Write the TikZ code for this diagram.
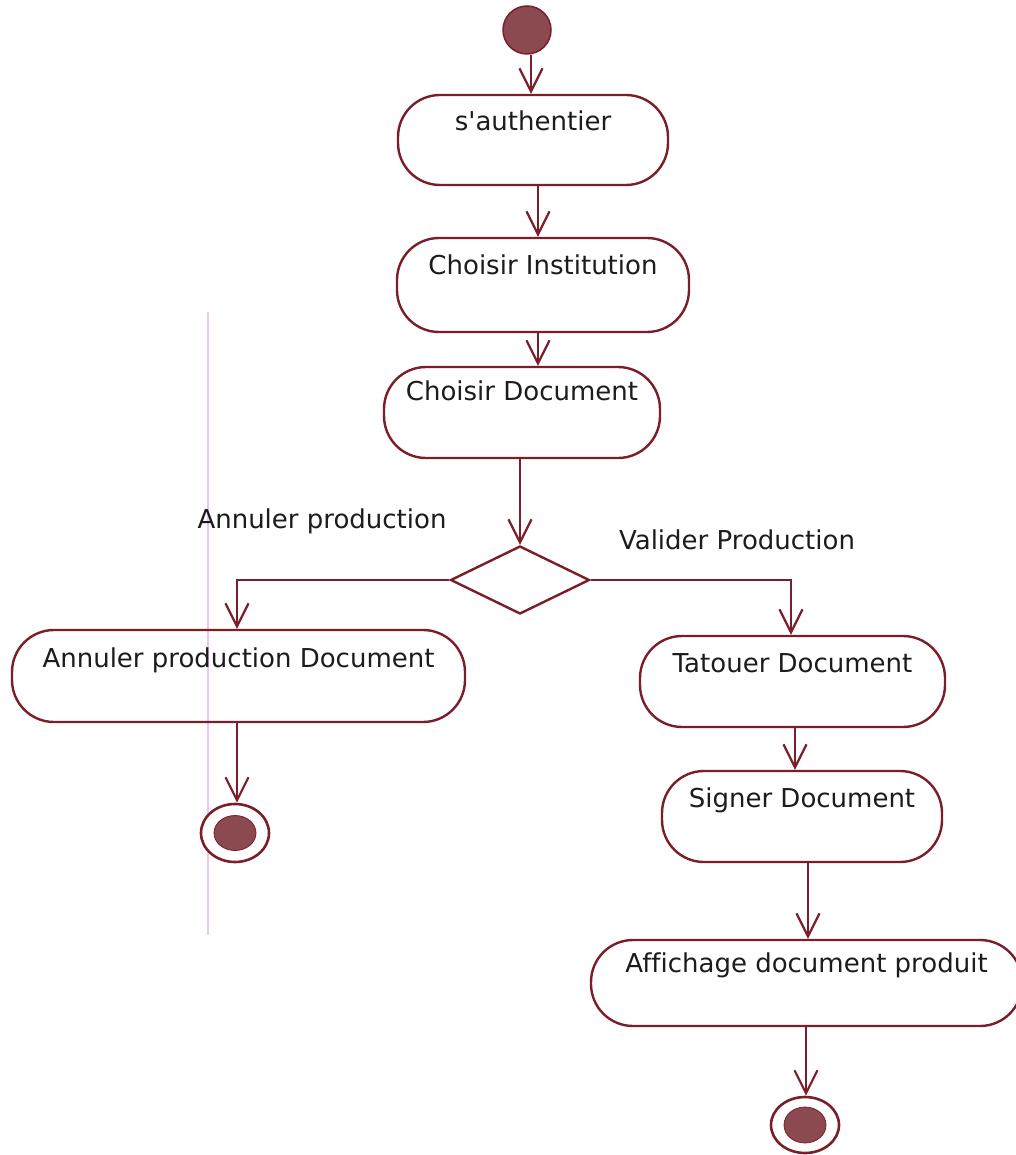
\documentclass[tikz,border=0pt]{standalone}
\usepackage{fontspec}
\setmainfont{DejaVu Sans}[Ligatures={NoCommon}]
\usetikzlibrary{arrows.meta,shapes.geometric}
\definecolor{umlline}{HTML}{7A1E2A}
\definecolor{umlfill}{HTML}{8A4A50}
\definecolor{umltext}{HTML}{1C1C1C}
\definecolor{margin}{HTML}{EBC8EE}
\tikzset{
  flow/.style={draw=umlline, line width=2.4pt,
    -{Straight Barb[length=23pt,width=23pt,line width=2.2pt]}},
  action/.style={draw=umlline, line width=2.4pt, rectangle,
    rounded corners=42pt, inner sep=0pt, text=umltext,
    font=\fontsize{26}{31}\selectfont},
  startnode/.style={circle, draw=umlline, line width=1.5pt, fill=umlfill,
    minimum size=48pt, inner sep=0pt},
  endring/.style={ellipse, draw=umlline, line width=2.6pt, fill=white,
    inner sep=0pt},
  enddot/.style={ellipse, fill=umlfill, draw=umlline, line width=0.8pt,
    inner sep=0pt},
  decision/.style={diamond, draw=umlline, line width=2.4pt, fill=white,
    inner sep=0pt, minimum width=139pt, minimum height=68pt},
  guard/.style={text=umltext, font=\fontsize{26}{31}\selectfont,
    inner sep=0pt, anchor=base}
}
\begin{document}
\begin{tikzpicture}[x=1pt,y=-1pt]
  \useasboundingbox (0,0) rectangle (1015,1155);
  \fill[white] (0,0) rectangle (1015,1155);
  % thin margin rule on the left
  \draw[margin, line width=1.5pt] (208,312) -- (208,935);

  % initial node
  \node[startnode] (start) at (527,30) {};

  % actions
  \node[action, minimum width=270pt, text height=36pt, text depth=54pt]
    (auth) at (533,140) {s\textquotesingle authentier};
  \node[action, minimum width=292pt, text height=37pt, text depth=57pt]
    (inst) at (543,285) {Choisir Institution};
  \node[action, minimum width=276pt, text height=33pt, text depth=58pt]
    (doc) at (522,412.5) {Choisir Document};
  \node[decision] (dia) at (520,580) {};
  \node[action, minimum width=453pt, text height=37pt, text depth=55pt]
    (annul) at (238.5,676) {Annuler production Document};
  \node[action, minimum width=305pt, text height=36pt, text depth=55pt]
    (tat) at (792.5,681.5) {Tatouer Document};
  \node[action, minimum width=280pt, text height=36pt, text depth=55pt]
    (sign) at (802,816.5) {Signer Document};
  \node[action, minimum width=431pt, text height=32pt, text depth=54pt]
    (aff) at (806.5,983) {Affichage document produit};

  % final nodes
  \node[endring, minimum width=68pt, minimum height=58pt] (end1) at (235,833) {};
  \node[enddot, minimum width=42pt, minimum height=35pt] (end1dot) at (235,833) {};
  \node[endring, minimum width=68pt, minimum height=56pt] (end2) at (805,1125) {};
  \node[enddot, minimum width=42pt, minimum height=36pt] (end2dot) at (805,1125) {};

  % guards
  \node[guard] (gcancel) at (322,528) {Annuler production};
  \node[guard] (gvalid) at (737,549) {Valider Production};

  % control flows
  \draw[flow] ([xshift=4pt]start.south) -- ([xshift=4pt]start.south |- auth.north);
  \draw[flow] ([xshift=5pt]auth.south) -- ([xshift=5pt]auth.south |- inst.north);
  \draw[flow] ([xshift=-5pt]inst.south) -- ([xshift=-5pt]inst.south |- doc.north);
  \draw[flow] (dia |- doc.south) -- (dia.north);
  \draw[flow] (dia.west) -| ([xshift=-1.5pt]annul.north);
  \draw[flow] (dia.east) -| ([xshift=-1.5pt]tat.north);
  \draw[flow] ([xshift=2pt]end1 |- annul.south) -- ([xshift=2pt]end1.north);
  \draw[flow] ([xshift=2.5pt]tat.south) -- ([xshift=2.5pt]tat.south |- sign.north);
  \draw[flow] ([xshift=1.5pt]aff |- sign.south) -- ([xshift=1.5pt]aff.north);
  \draw[flow] ([xshift=1pt]end2 |- aff.south) -- ([xshift=1pt]end2.north);
\end{tikzpicture}
\end{document}
